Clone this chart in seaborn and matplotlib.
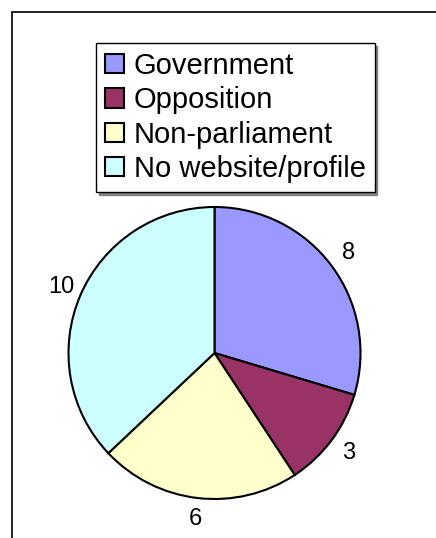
import matplotlib
matplotlib.use("Agg")
import matplotlib.pyplot as plt
from matplotlib.lines import Line2D
from matplotlib.patches import Patch
import seaborn as sns

categories = ["Government", "Opposition", "Non-parliament", "No website/profile"]
counts = [8, 3, 6, 10]
colors = ["#9999FF", "#993366", "#FFFFCC", "#CCFFFF"]

sns.set_theme(style="white")
plt.rcParams["font.family"] = ["Liberation Sans", "DejaVu Sans"]
plt.rcParams["text.color"] = "black"

W, H = 436, 538
fig = plt.figure(figsize=(W / 100, H / 100), dpi=100)
fig.patch.set_facecolor("white")

# chart frame: left and top edges
fig.add_artist(Line2D([11.5 / W, 11.5 / W], [0, 1 - 11.5 / H], color="black", lw=1.2,
                      transform=fig.transFigure))
fig.add_artist(Line2D([11.5 / W, 1], [1 - 11.5 / H, 1 - 11.5 / H], color="black", lw=1.2,
                      transform=fig.transFigure))

# pie axes: centre (214.5, 353) px, radius 146 px
cx, cy, r = 214.5, 353.0, 146.0
half = 180.0
ax = fig.add_axes([(cx - half) / W, (H - cy - half) / H, 2 * half / W, 2 * half / H])
lim = half / r
wedges, texts = ax.pie(
    counts,
    colors=colors,
    labels=[str(v) for v in counts],
    startangle=90,
    counterclock=False,
    labeldistance=1.145,
    wedgeprops=dict(edgecolor="black", linewidth=1.5),
    textprops=dict(fontsize=17, color="black"),
)
for t in texts:
    t.set_ha("center")
    t.set_va("center")
ax.set_xlim(-lim, lim)
ax.set_ylim(-lim, lim)
ax.set_aspect("equal")
ax.axis("off")

# legend box with drop shadow
handles = [Patch(facecolor=c, edgecolor="black", linewidth=1.5) for c in colors]
leg = fig.legend(
    handles, categories,
    loc="upper left",
    bbox_to_anchor=(96 / W, 1 - 43 / H),
    bbox_transform=fig.transFigure,
    fontsize=21,
    labelcolor="black",
    frameon=True,
    fancybox=False,
    shadow={"color": "#808080", "alpha": 1.0, "ox": 2, "oy": -2},
    edgecolor="black",
    framealpha=1,
    borderpad=0.3,
    handlelength=0.65,
    handleheight=0.65,
    handletextpad=0.35,
    labelspacing=0.22,
    borderaxespad=0,
)
leg.get_frame().set_linewidth(1.0)

fig.savefig("out.png", dpi=100, facecolor="white")
